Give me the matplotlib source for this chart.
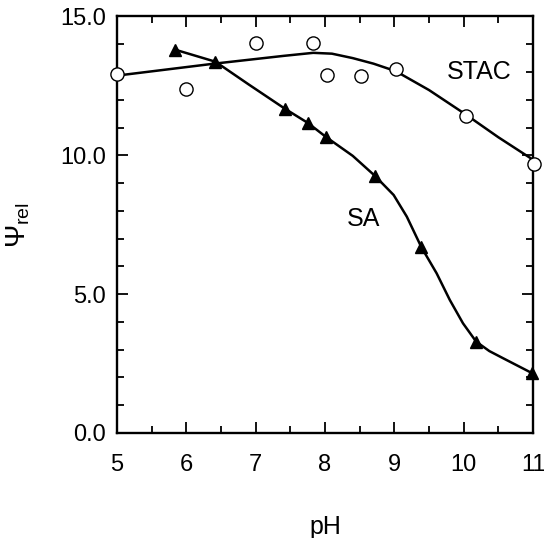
import matplotlib.pyplot as plt
from matplotlib.ticker import MultipleLocator

plt.rcParams['font.family'] = ['Liberation Sans', 'DejaVu Sans']
plt.rcParams['mathtext.fontset'] = 'custom'
plt.rcParams['mathtext.rm'] = 'Liberation Sans'
plt.rcParams['mathtext.it'] = 'Liberation Sans:italic'

# STAC measurements (open circles)
stac_ph = [5.0, 6.0, 7.0, 7.83, 8.03, 8.52, 9.02, 10.03, 11.02]
stac_psi = [12.94, 12.37, 14.05, 14.05, 12.9, 12.84, 13.1, 11.4, 9.67]
# STAC fitted curve
stac_fit_ph = [5.0, 6.4, 7.4, 7.83, 8.1, 8.4, 8.7, 9.02, 9.5, 10.03, 10.5, 11.0]
stac_fit_psi = [12.87, 13.3, 13.58, 13.69, 13.66, 13.5, 13.3, 13.03, 12.35, 11.47, 10.65, 9.84]

# SA measurements (filled triangles)
sa_ph = [5.83, 6.42, 7.42, 7.75, 8.02, 8.72, 9.39, 10.18, 10.99]
sa_psi = [13.81, 13.37, 11.68, 11.17, 10.65, 9.26, 6.69, 3.29, 2.15]
# SA fitted curve
sa_fit_ph = [5.83, 6.42, 6.9, 7.42, 7.75, 8.02, 8.4, 8.72, 8.99, 9.18, 9.39, 9.61,
             9.8, 9.99, 10.18, 10.37, 10.57, 10.78, 10.99]
sa_fit_psi = [13.81, 13.37, 12.55, 11.68, 11.17, 10.65, 9.98, 9.26, 8.57, 7.79, 6.69, 5.75,
              4.79, 3.95, 3.29, 2.95, 2.69, 2.42, 2.15]

fig = plt.figure(figsize=(5.44, 5.38), dpi=100)
ax = fig.add_axes([0.2151, 0.1952, 0.7647, 0.7742])

ax.plot(stac_fit_ph, stac_fit_psi, color='black', lw=1.8, zorder=2)
ax.plot(sa_fit_ph, sa_fit_psi, color='black', lw=1.8, zorder=2)
ax.plot(stac_ph, stac_psi, 'o', ms=9.5, mfc='white', mec='black', mew=1.0,
        clip_on=False, zorder=3)
ax.plot(sa_ph, sa_psi, '^', ms=8, color='black', clip_on=False, zorder=3)

ax.text(10.22, 13.0, 'STAC', fontsize=18, ha='center', va='center')
ax.text(8.56, 7.71, 'SA', fontsize=18, ha='center', va='center')

ax.set_xlim(5, 11)
ax.set_ylim(0, 15)
ax.xaxis.set_major_locator(MultipleLocator(1))
ax.xaxis.set_minor_locator(MultipleLocator(0.5))
ax.yaxis.set_major_locator(MultipleLocator(5))
ax.yaxis.set_minor_locator(MultipleLocator(1))
ax.yaxis.set_major_formatter(plt.FormatStrFormatter('%.1f'))

ax.tick_params(which='both', direction='in', top=True, right=True, width=1.3)
ax.tick_params(which='major', length=8, labelsize=17)
ax.tick_params(axis='x', which='major', pad=15)
ax.tick_params(axis='y', which='major', pad=8)
ax.tick_params(which='minor', length=5)
for s in ax.spines.values():
    s.set_linewidth(1.7)

ax.set_xlabel('pH', fontsize=18)
ax.set_ylabel(r'$\Psi_{\mathrm{rel}}$', fontsize=20)
ax.xaxis.set_label_coords(0.5, -0.197)
ax.yaxis.set_label_coords(-0.204, 0.5)

fig.savefig('out.png', dpi=100)
